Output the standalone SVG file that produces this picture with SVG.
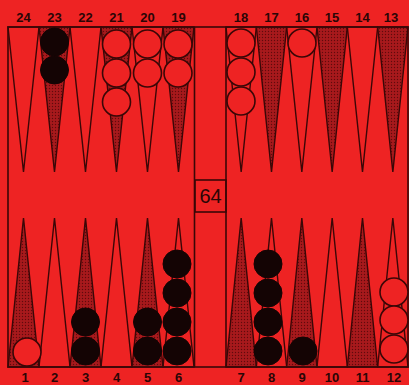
<svg xmlns="http://www.w3.org/2000/svg" width="409" height="385" viewBox="0 0 409 385">
<defs>
<pattern id="stip" width="3" height="3" patternUnits="userSpaceOnUse">
<rect width="3" height="3" fill="#a8191c"/>
<circle cx="1.5" cy="1.5" r="0.7" fill="#600a0c"/>
</pattern>
<style>
.lt{fill:none;stroke:#3a0707;stroke-width:1.4;stroke-linejoin:miter}
.dk{fill:url(#stip);stroke:#3a0707;stroke-width:1.4}
.w{fill:#ee2323;stroke:#3a0707;stroke-width:1.6}
.b{fill:#140404;stroke:#140404;stroke-width:1}
.lbl{font-family:"Liberation Sans",Arial,sans-serif;font-weight:bold;font-size:13px;fill:#2a0606;text-anchor:middle}
.frame{fill:none;stroke:#3a0707;stroke-width:1.6}
</style>
</defs>
<rect width="409" height="385" fill="#ee2323"/>
<g id="labels">
<text class="lbl" x="23.5" y="22">24</text>
<text class="lbl" x="54.5" y="22">23</text>
<text class="lbl" x="85.5" y="22">22</text>
<text class="lbl" x="116.5" y="22">21</text>
<text class="lbl" x="147.5" y="22">20</text>
<text class="lbl" x="178.5" y="22">19</text>
<text class="lbl" x="241" y="22">18</text>
<text class="lbl" x="271.5" y="22">17</text>
<text class="lbl" x="302" y="22">16</text>
<text class="lbl" x="332" y="22">15</text>
<text class="lbl" x="362.5" y="22">14</text>
<text class="lbl" x="391" y="22">13</text>
<text class="lbl" x="25" y="382">1</text>
<text class="lbl" x="54.5" y="382">2</text>
<text class="lbl" x="85.5" y="382">3</text>
<text class="lbl" x="116.5" y="382">4</text>
<text class="lbl" x="147.5" y="382">5</text>
<text class="lbl" x="178.5" y="382">6</text>
<text class="lbl" x="241" y="382">7</text>
<text class="lbl" x="271.5" y="382">8</text>
<text class="lbl" x="302" y="382">9</text>
<text class="lbl" x="332" y="382">10</text>
<text class="lbl" x="362.5" y="382">11</text>
<text class="lbl" x="394" y="382">12</text>
</g>
<g id="points">
<polygon class="lt" points="8,27 39,27 23.5,172"/>
<polygon class="dk" points="39,27 70,27 54.5,172"/>
<polygon class="lt" points="70,27 101,27 85.5,172"/>
<polygon class="dk" points="101,27 132,27 116.5,172"/>
<polygon class="lt" points="132,27 163,27 147.5,172"/>
<polygon class="dk" points="163,27 194,27 178.5,172"/>
<polygon class="lt" points="226,27 256.33,27 241.17,172"/>
<polygon class="dk" points="256.33,27 286.67,27 271.5,172"/>
<polygon class="lt" points="286.67,27 317,27 301.83,172"/>
<polygon class="dk" points="317,27 347.33,27 332.17,172"/>
<polygon class="lt" points="347.33,27 377.67,27 362.5,172"/>
<polygon class="dk" points="377.67,27 408,27 392.83,172"/>
<polygon class="dk" points="8,367 39,367 23.5,218"/>
<polygon class="lt" points="39,367 70,367 54.5,218"/>
<polygon class="dk" points="70,367 101,367 85.5,218"/>
<polygon class="lt" points="101,367 132,367 116.5,218"/>
<polygon class="dk" points="132,367 163,367 147.5,218"/>
<polygon class="lt" points="163,367 194,367 178.5,218"/>
<polygon class="dk" points="226,367 256.33,367 241.17,218"/>
<polygon class="lt" points="256.33,367 286.67,367 271.5,218"/>
<polygon class="dk" points="286.67,367 317,367 301.83,218"/>
<polygon class="lt" points="317,367 347.33,367 332.17,218"/>
<polygon class="dk" points="347.33,367 377.67,367 362.5,218"/>
<polygon class="lt" points="377.67,367 408,367 392.83,218"/>
</g>
<g id="board">
<rect class="frame" x="8" y="27" width="400" height="340"/>
<line class="frame" x1="194.5" y1="27" x2="194.5" y2="367"/>
<line class="frame" x1="226" y1="27" x2="226" y2="367"/>
</g>
<g id="cube">
<rect class="frame" x="195" y="180" width="31" height="32"/>
<text x="210.5" y="203" font-family="Liberation Sans,Arial,sans-serif" font-size="20" fill="#2a0606" text-anchor="middle">64</text>
</g>
<g id="checkers">
<circle class="b" cx="54.5" cy="42" r="14"/>
<circle class="b" cx="54.5" cy="70" r="14"/>
<circle class="w" cx="116.5" cy="44" r="14"/>
<circle class="w" cx="116.5" cy="73" r="14"/>
<circle class="w" cx="116.5" cy="102" r="14"/>
<circle class="w" cx="147.5" cy="44" r="14"/>
<circle class="w" cx="147.5" cy="73" r="14"/>
<circle class="w" cx="178" cy="44" r="14"/>
<circle class="w" cx="178" cy="73" r="14"/>
<circle class="w" cx="241" cy="43" r="14"/>
<circle class="w" cx="241" cy="72" r="14"/>
<circle class="w" cx="241" cy="101" r="14"/>
<circle class="w" cx="302" cy="43" r="14"/>
<circle class="w" cx="27" cy="352" r="14"/>
<circle class="b" cx="85.5" cy="322" r="14"/>
<circle class="b" cx="85.5" cy="351" r="14"/>
<circle class="b" cx="147.5" cy="322" r="14"/>
<circle class="b" cx="147.5" cy="351" r="14"/>
<circle class="b" cx="177" cy="264" r="14"/>
<circle class="b" cx="177" cy="293" r="14"/>
<circle class="b" cx="177" cy="322" r="14"/>
<circle class="b" cx="177" cy="351" r="14"/>
<circle class="b" cx="268" cy="264" r="14"/>
<circle class="b" cx="268" cy="293" r="14"/>
<circle class="b" cx="268" cy="322" r="14"/>
<circle class="b" cx="268" cy="351" r="14"/>
<circle class="b" cx="303" cy="351" r="14"/>
<circle class="w" cx="394" cy="292" r="14"/>
<circle class="w" cx="394" cy="320" r="14"/>
<circle class="w" cx="394" cy="349" r="14"/>
</g>
</svg>
